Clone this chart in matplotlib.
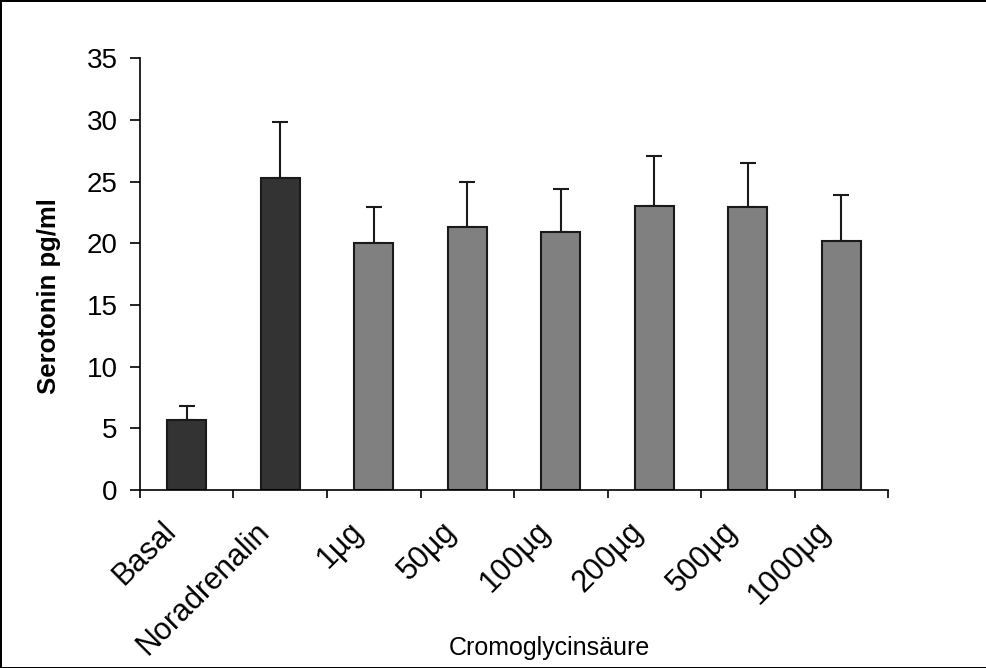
import matplotlib.pyplot as plt
import matplotlib.transforms as mtransforms
import numpy as np

categories = ['Basal', 'Noradrenalin', '1µg', '50µg', '100µg', '200µg', '500µg', '1000µg']
means = [5.7, 25.3, 20.0, 21.3, 20.9, 23.0, 22.9, 20.2]
errors = [1.1, 4.5, 2.9, 3.7, 3.5, 4.1, 3.6, 3.7]
colors = ['#333333', '#333333', '#808080', '#808080', '#808080', '#808080', '#808080', '#808080']

plt.rcParams['font.family'] = ['Liberation Sans', 'DejaVu Sans']

fig = plt.figure(figsize=(9.87, 6.68), dpi=100, edgecolor='black', linewidth=2)
ax = fig.add_axes([0.1418, 0.2665, 0.758, 0.6465])

x = np.arange(len(categories))
ax.bar(x, means, width=0.42, color=colors, edgecolor='#1a1a1a', linewidth=1.5, zorder=2)
ax.errorbar(x, means, yerr=[np.zeros(len(errors)), errors], fmt='none',
            ecolor='#1a1a1a', elinewidth=1.5, capsize=6, capthick=1.5, zorder=1)

ax.set_xlim(-0.5, len(categories) - 0.5)
ax.set_ylim(0, 35)
ax.set_yticks(np.arange(0, 36, 5))
ax.tick_params(axis='y', labelsize=20, length=7, width=1.2, direction='out', pad=9)

ax.set_xticks(np.arange(-0.5, len(categories), 1))
ax.set_xticklabels([])
ax.tick_params(axis='x', which='major', length=6, width=1.2, direction='out')
ax.set_xticks(x, minor=True)
ax.set_xticklabels(categories, minor=True, rotation=45, ha='right', rotation_mode='anchor', fontsize=22)
ax.tick_params(axis='x', which='minor', length=0, pad=19)
offset = mtransforms.ScaledTranslation(-26 / 100, 0, fig.dpi_scale_trans)
for lbl in ax.get_xticklabels(minor=True):
    lbl.set_transform(lbl.get_transform() + offset)

for s in ['top', 'right']:
    ax.spines[s].set_visible(False)
ax.spines['left'].set_linewidth(1.2)
ax.spines['bottom'].set_linewidth(1.2)

ax.set_ylabel('Serotonin pg/ml', fontsize=18.5, fontweight='bold')
ax.yaxis.set_label_coords(-0.105, 0.45)
fig.text(0.557, 0.03, 'Cromoglycinsäure', fontsize=18, ha='center', va='center')

fig.savefig('out.png', dpi=100)
